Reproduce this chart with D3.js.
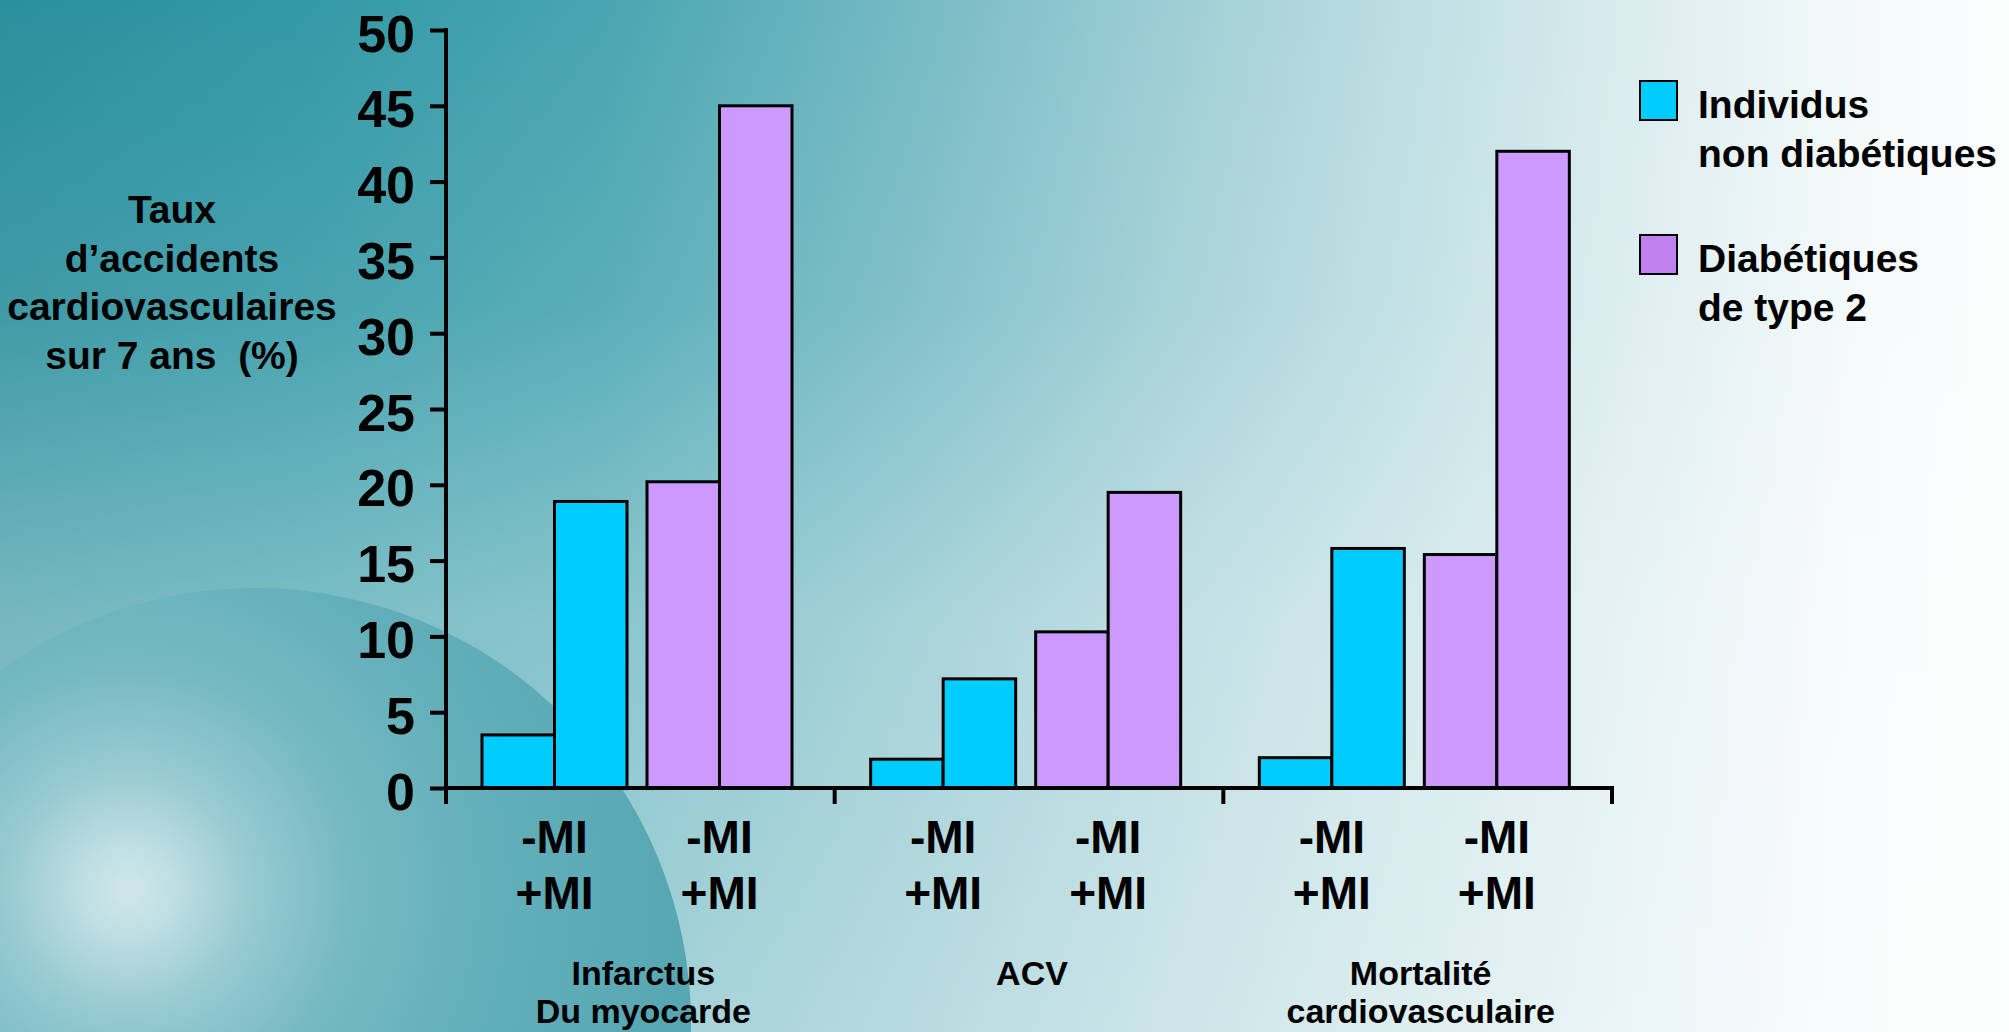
<!DOCTYPE html>
<html>
<head>
<meta charset="utf-8">
<script src="https://cdn.jsdelivr.net/npm/d3@7"></script>
<style>
  html, body { margin: 0; padding: 0; overflow: hidden; background: #6fb5bf; }
  svg { display: block; }
  text { font-family: "Liberation Sans", Arial, sans-serif; font-weight: bold; fill: #000; }
</style>
</head>
<body>
<svg id="chart" width="2009" height="1032"></svg>
<script>
// Event categories (multi-line labels)
const categories = [["Infarctus", "Du myocarde"], ["ACV"], ["Mortalité", "cardiovasculaire"]];
// Series: legend labels
const seriesLabels = [["Individus", "non diabétiques"], ["Diabétiques", "de type 2"]];
// Sub-bars within each series: without / with prior myocardial infarction
const miLabels = ["-MI", "+MI"];
// 7-year cardiovascular event rates (%)
const nonDiabMinusMI = [3.5, 1.9, 2.0];
const nonDiabPlusMI  = [18.9, 7.2, 15.8];
const diabMinusMI    = [20.2, 10.3, 15.4];
const diabPlusMI     = [45.0, 19.5, 42.0];
const yTicks = [0, 5, 10, 15, 20, 25, 30, 35, 40, 45, 50];
const yTitle = ["Taux", "d\u2019accidents", "cardiovasculaires", "sur 7 ans\u00a0\u00a0(%)"];

const colors = ["#00ccff", "#cc99ff"];
const legendColors = ["#00ccff", "#c080ee"];

const W = 2009, H = 1032;
const svg = d3.select("#chart");
const defs = svg.append("defs");

// ---- background: teal fading to white towards the right, lighter towards the bottom ----
const bg = defs.append("linearGradient").attr("id", "bgH").attr("x1", 0).attr("x2", 1).attr("y1", 0).attr("y2", 0);
[[0, "#2a8f9c"], [0.15, "#3399a6"], [0.3, "#48a5b1"], [0.45, "#74b9c3"], [0.58, "#9dcdd4"],
 [0.7, "#bddee2"], [0.82, "#dcedef"], [0.92, "#f3f9f9"], [1, "#fbfdfd"]]
  .forEach(([o, c]) => bg.append("stop").attr("offset", o).attr("stop-color", c));
svg.append("rect").attr("width", W).attr("height", H).attr("fill", "url(#bgH)");

const bgV = defs.append("linearGradient").attr("id", "bgV").attr("x1", 0).attr("x2", 0).attr("y1", 0).attr("y2", 1);
[[0, 0], [0.3, 0.1], [0.6, 0.36], [1, 0.48]]
  .forEach(([o, a]) => bgV.append("stop").attr("offset", o).attr("stop-color", "#ffffff").attr("stop-opacity", a));
svg.append("rect").attr("width", W).attr("height", H).attr("fill", "url(#bgV)");

// sphere in the lower-left corner with a soft highlight
const sph = defs.append("radialGradient").attr("id", "sphere")
  .attr("gradientUnits", "userSpaceOnUse").attr("cx", 128).attr("cy", 890).attr("r", 560)
  .attr("fx", 128).attr("fy", 890);
[[0, "#d0e7ea"], [0.08, "#bfdfe3"], [0.22, "#97cad1"], [0.4, "#76b9c2"], [0.65, "#62afba"], [1, "#57a7b2"]]
  .forEach(([o, c]) => sph.append("stop").attr("offset", o).attr("stop-color", c));
svg.append("circle").attr("cx", 255).attr("cy", 1024).attr("r", 436).attr("fill", "url(#sphere)");

// ---- scales ----
const x0 = d3.scaleBand().domain(d3.range(categories.length)).range([446, 1612]).padding(0);
const x1 = d3.scaleBand().domain([0, 1]).range([36, 346]).paddingInner(20 / 165).paddingOuter(0);
const x2 = d3.scaleBand().domain([0, 1]).range([0, x1.bandwidth()]).padding(0);
const y = d3.scaleLinear().domain([0, 50]).range([788, 30]);

const seriesValues = [[nonDiabMinusMI, nonDiabPlusMI], [diabMinusMI, diabPlusMI]];
const bars = [];
categories.forEach((c, ci) => {
  seriesValues.forEach((s, si) => {
    s.forEach((vals, mi) => bars.push({ ci, si, mi, v: vals[ci] }));
  });
});

svg.append("g").selectAll("rect").data(bars).join("rect")
  .attr("x", d => x0(d.ci) + x1(d.si) + x2(d.mi))
  .attr("y", d => y(d.v))
  .attr("width", x2.bandwidth())
  .attr("height", d => y(0) - y(d.v))
  .attr("fill", d => colors[d.si])
  .attr("stroke", "#000")
  .attr("stroke-width", 3);

// ---- y axis ----
const yAxis = svg.append("g").attr("transform", "translate(446,0)")
  .call(d3.axisLeft(y).tickValues(yTicks).tickSize(16).tickPadding(0).tickFormat(d3.format("d")));
yAxis.select(".domain").remove();
yAxis.selectAll(".tick line").attr("stroke", "#000").attr("stroke-width", 4);
yAxis.selectAll(".tick text").attr("x", -31).attr("dy", null).attr("y", 21)
  .style("font-size", "52px").attr("text-anchor", "end").attr("fill", "#000");
svg.append("line").attr("x1", 446).attr("x2", 446).attr("y1", y(50) - 2).attr("y2", 804)
  .attr("stroke", "#000").attr("stroke-width", 4);

// ---- x axis ----
const xEdges = d3.range(categories.length + 1).map(i => i < categories.length ? x0(i) : x0.range()[1]);
svg.append("line").attr("x1", 446).attr("x2", 1614).attr("y1", y(0)).attr("y2", y(0))
  .attr("stroke", "#000").attr("stroke-width", 4);
svg.append("g").selectAll("line").data(xEdges).join("line")
  .attr("x1", d => d).attr("x2", d => d).attr("y1", y(0)).attr("y2", 804)
  .attr("stroke", "#000").attr("stroke-width", 4);

// -MI / +MI labels under each pair of bars
const pairLabels = [];
categories.forEach((c, ci) => [0, 1].forEach(si => pairLabels.push({ ci, si })));
const pl = svg.append("g").selectAll("g").data(pairLabels).join("g")
  .attr("transform", d => `translate(${x0(d.ci) + x1(d.si) + x1.bandwidth() / 2},0)`);
pl.selectAll("text").data(miLabels).join("text")
  .attr("x", 0).attr("y", (d, i) => 853 + i * 56)
  .attr("text-anchor", "middle").style("font-size", "46px").text(d => d);

// category labels
const cl = svg.append("g").selectAll("text").data(categories).join("text")
  .attr("x", (d, i) => x0(i) + x0.bandwidth() / 2 + 3)
  .attr("y", 985).attr("text-anchor", "middle").style("font-size", "34px");
cl.selectAll("tspan").data(d => d).join("tspan")
  .attr("x", function () { return this.parentNode.getAttribute("x"); })
  .attr("dy", (d, i) => i === 0 ? 0 : 38).text(d => d);

// y title
const yt = svg.append("text").attr("x", 172).attr("y", 223).attr("text-anchor", "middle").style("font-size", "39px");
yt.selectAll("tspan").data(yTitle).join("tspan")
  .attr("x", 172).attr("dy", (d, i) => i === 0 ? 0 : 48.5).text(d => d);

// legend
const lg = svg.append("g").selectAll("g").data(seriesLabels).join("g")
  .attr("transform", (d, i) => `translate(1640,${81 + i * 154})`);
lg.append("rect").attr("width", 37).attr("height", 39)
  .attr("fill", (d, i) => legendColors[i]).attr("stroke", "#000").attr("stroke-width", 2);
const lt = lg.append("text").attr("x", 58).attr("y", 37).style("font-size", "39px");
lt.selectAll("tspan").data(d => d).join("tspan")
  .attr("x", 58).attr("dy", (d, i) => i === 0 ? 0 : 49).text(d => d);
</script>
</body>
</html>
